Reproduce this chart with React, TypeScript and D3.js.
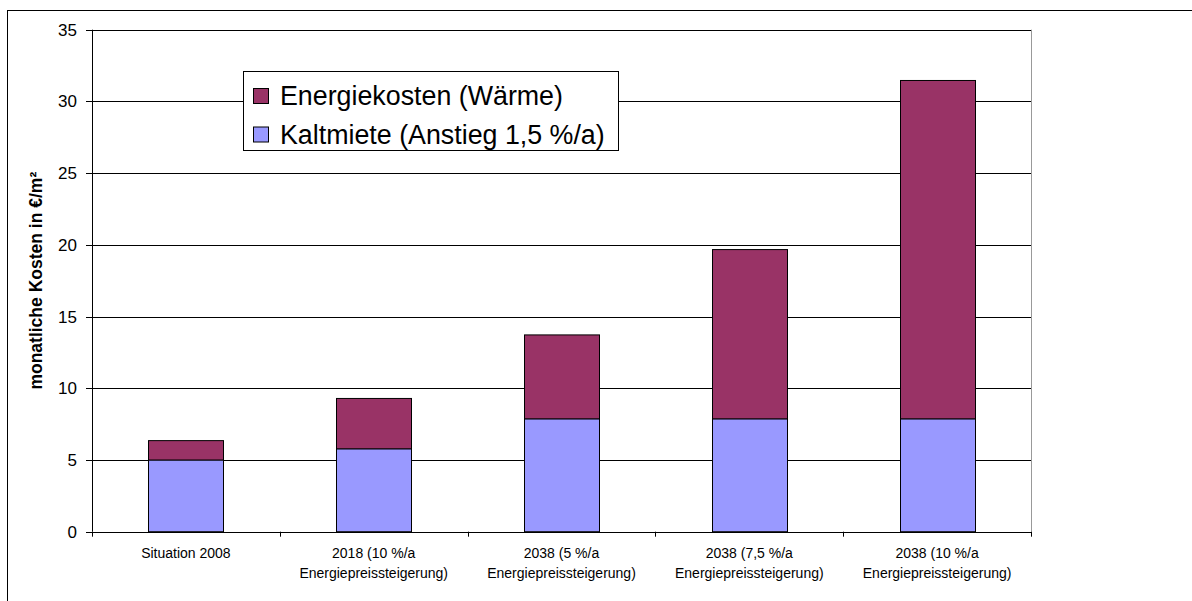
import React from 'react';
import * as d3 from 'd3';

// categories (two-line labels) and stacked values in €/m²
const categories = [
  ['Situation 2008'],
  ['2018 (10 %/a', 'Energiepreissteigerung)'],
  ['2038 (5 %/a', 'Energiepreissteigerung)'],
  ['2038 (7,5 %/a', 'Energiepreissteigerung)'],
  ['2038 (10 %/a', 'Energiepreissteigerung)'],
];
const kaltmiete = [5.0, 5.78, 7.87, 7.87, 7.87];
const energiekosten = [1.35, 3.51, 5.85, 11.8, 23.59];
const yTicks = [0, 5, 10, 15, 20, 25, 30, 35];
const seriesNames = ['Energiekosten (Wärme)', 'Kaltmiete (Anstieg 1,5 %/a)'];
const colors = { energie: '#993366', kalt: '#9999FF' };

const W = 1192;
const H = 601;
const plot = { left: 92, right: 1031, top: 29.7, bottom: 531.7 };

export default function App() {
  const keys = categories.map((c) => c.join(' '));
  const x = d3.scaleBand().domain(keys).range([plot.left, plot.right]).paddingInner(0.6).paddingOuter(0.3);
  const xOuter = d3.scaleBand().domain(keys).range([plot.left, plot.right]);
  const y = d3.scaleLinear().domain([0, 35]).range([plot.bottom, plot.top]);

  const rows = keys.map((k, i) => ({ key: k, kalt: kaltmiete[i], energie: energiekosten[i] }));
  const stack = d3.stack<any>().keys(['kalt', 'energie'])(rows);

  const font = 'Arial, "Liberation Sans", sans-serif';

  return (
    <div style={{ position: 'absolute', left: 0, top: 0 }}>
      <svg width={W} height={H} style={{ display: 'block', background: '#fff' }}>
        {/* outer chart frame */}
        <rect x={7.5} y={10.5} width={W + 20} height={H + 20} fill="#fff" stroke="#000" strokeWidth={1} />

        {/* gridlines */}
        {yTicks.filter((t) => t > 0).map((t) => (
          <line key={t} x1={plot.left} x2={plot.right} y1={Math.round(y(t)) + 0.5} y2={Math.round(y(t)) + 0.5} stroke="#000" strokeWidth={1} />
        ))}
        {/* plot right border */}
        <line x1={plot.right + 0.5} x2={plot.right + 0.5} y1={plot.top} y2={plot.bottom} stroke="#999" strokeWidth={1} />

        {/* bars */}
        {stack.map((layer) => (
          <g key={layer.key}>
            {layer.map((d, i) => (
              <rect
                key={i}
                x={Math.round(x(keys[i])!) + 0.5}
                y={y(d[1])}
                width={Math.round(x.bandwidth())}
                height={y(d[0]) - y(d[1])}
                fill={layer.key === 'kalt' ? colors.kalt : colors.energie}
                stroke="#000"
                strokeWidth={1}
              />
            ))}
          </g>
        ))}

        {/* y axis */}
        <line x1={plot.left + 0.5} x2={plot.left + 0.5} y1={plot.top} y2={plot.bottom} stroke="#000" />
        {yTicks.map((t) => (
          <g key={t}>
            <line x1={plot.left - 6} x2={plot.left} y1={Math.round(y(t)) + 0.5} y2={Math.round(y(t)) + 0.5} stroke="#000" />
            <text x={77} y={y(t)} dy="0.35em" textAnchor="end" fontFamily={font} fontSize={17} fill="#000">
              {t}
            </text>
          </g>
        ))}
        <text
          transform={`translate(42,${(plot.top + plot.bottom) / 2}) rotate(-90)`}
          textAnchor="middle"
          fontFamily={font}
          fontSize={17.5}
          fontWeight="bold"
          fill="#000"
        >
          monatliche Kosten in €/m²
        </text>

        {/* x axis */}
        <line x1={plot.left} x2={plot.right + 1} y1={Math.round(plot.bottom) + 0.5} y2={Math.round(plot.bottom) + 0.5} stroke="#000" />
        {keys.map((k) => (
          <line key={k} x1={Math.round(xOuter(k)!) + 0.5} x2={Math.round(xOuter(k)!) + 0.5} y1={plot.bottom} y2={plot.bottom + 5} stroke="#000" />
        ))}
        <line x1={plot.right + 0.5} x2={plot.right + 0.5} y1={plot.bottom} y2={plot.bottom + 5} stroke="#000" />
        {categories.map((c, i) => (
          <text key={i} textAnchor="middle" fontFamily={font} fontSize={14} fill="#000">
            {c.map((line, j) => (
              <tspan key={j} x={xOuter(keys[i])! + xOuter.bandwidth() / 2} y={558 + j * 20}>
                {line}
              </tspan>
            ))}
          </text>
        ))}

        {/* legend */}
        <rect x={243.5} y={71.5} width={375} height={79} fill="#fff" stroke="#000" strokeWidth={1} />
        {seriesNames.map((s, i) => (
          <g key={s}>
            <rect x={253.5} y={88.5 + i * 38.5} width={15} height={15} fill={i === 0 ? colors.energie : colors.kalt} stroke="#000" />
            <text x={280} y={96 + i * 38.5} dy="0.35em" fontFamily={font} fontSize={26.8} fill="#000">
              {s}
            </text>
          </g>
        ))}
      </svg>
    </div>
  );
}
